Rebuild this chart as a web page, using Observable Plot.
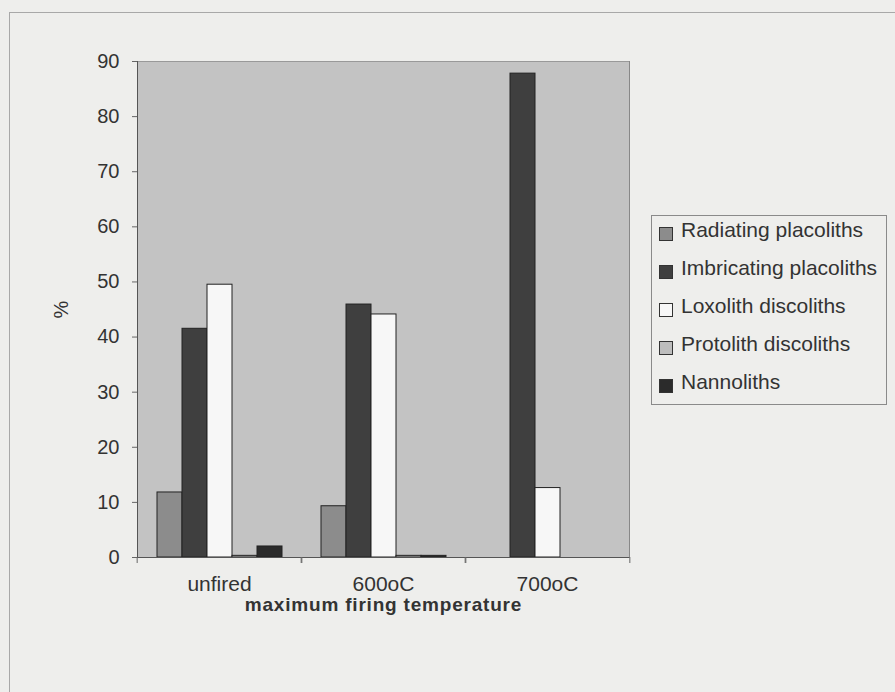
<!DOCTYPE html>
<html>
<head>
<meta charset="utf-8">
<script src="https://cdn.jsdelivr.net/npm/d3@7"></script>
<script src="https://cdn.jsdelivr.net/npm/@observablehq/plot@0.6"></script>
<style>
  html, body { margin: 0; padding: 0; }
  body { width: 895px; height: 692px; overflow: hidden; background: #eeeeec; position: relative; font-family: "Liberation Sans", Arial, sans-serif; }
  #outer { position: absolute; left: 9px; top: 12px; width: 2000px; height: 2000px; border: 1px solid #a8a8a8; }
  #chart { position: absolute; left: 0; top: 0; }
  #legend { position: absolute; left: 651px; top: 215px; width: 236px; height: 190px; border: 1px solid #8a8a8a; box-sizing: border-box; padding-top: 0; }
  .item { display: flex; align-items: center; height: 38px; padding-left: 7px; font-size: 21px; color: #333; margin-top: -5px; margin-bottom: 5px; }
  .sw { width: 14px; height: 14px; border: 1px solid #333; box-sizing: border-box; margin-right: 8px; margin-top: 8px; }
  g[aria-label="fx-axis label"] text { font-weight: bold; font-size: 19px; letter-spacing: 0.8px; }
  g[aria-label="fx-axis tick label"] text { font-size: 21px; }
</style>
</head>
<body>
<div id="outer"></div>
<div id="chart"></div>
<div id="legend"></div>
<script>
const categories = ["unfired", "600oC", "700oC"];
const series = ["Radiating placoliths", "Imbricating placoliths", "Loxolith discoliths", "Protolith discoliths", "Nannoliths"];
const radiating   = [11.8, 9.3, 0];
const imbricating = [41.5, 45.9, 87.8];
const loxolith    = [49.5, 44.1, 12.6];
const protolith   = [0.3, 0.3, 0];
const nannoliths  = [2.0, 0.3, 0];
const colors = ["#8c8c8c", "#3f3f3f", "#f7f7f7", "#bdbdbd", "#2b2b2b"];
const yTicks = [0, 10, 20, 30, 40, 50, 60, 70, 80, 90];

const values = [radiating, imbricating, loxolith, protolith, nannoliths];
const rows = [];
categories.forEach((c, i) => series.forEach((s, j) => {
  if (values[j][i] > 0) rows.push({category: c, series: s, value: values[j][i]});
}));

const W = 895, H = 692, ML = 136, MR = 265, MT = 61, MB = 135;
const step = (W - ML - MR) / categories.length;
const first = categories[0], last = categories[categories.length - 1];

const chart = Plot.plot({
  width: W, height: H,
  marginLeft: ML, marginRight: MR, marginTop: MT, marginBottom: MB,
  style: {background: "transparent", fontFamily: "'Liberation Sans', Arial, sans-serif", fontSize: "20px", color: "#333"},
  fx: {domain: categories, padding: 0},
  x: {domain: series, paddingInner: 0, paddingOuter: 0.7, axis: null},
  y: {domain: [0, 90]},
  color: {domain: series, range: colors},
  marks: [
    Plot.frame({fill: "#c3c3c3", stroke: "#c3c3c3"}),
    Plot.ruleY([90], {stroke: "#999"}),
    Plot.frame({anchor: "right", fx: [last], stroke: "#888"}),
    Plot.barY(rows, {fx: "category", x: "series", y: "value", fill: "series", stroke: "#222", strokeWidth: 1}),
    Plot.ruleY([0], {stroke: "#555"}),
    Plot.frame({anchor: "left", fx: [first], stroke: "#555"}),
    Plot.axisY({ticks: yTicks, tickSize: 5, tickPadding: 13, stroke: "#666", label: "%", labelAnchor: "center", labelArrow: "none", labelOffset: 84}),
    Plot.axisFx({anchor: "bottom", tickSize: 0, tickPadding: 19, label: "maximum firing temperature", labelAnchor: "center", labelArrow: "none", labelOffset: 53}),
    Plot.axisFx({anchor: "bottom", tickSize: 6, tickFormat: () => "", dx: -step / 2, label: null, stroke: "#666"}),
    Plot.axisFx({anchor: "bottom", tickSize: 6, tickFormat: () => "", dx: step / 2, label: null, stroke: "#666"})
  ]
});
document.getElementById("chart").appendChild(chart);

const legend = document.getElementById("legend");
series.forEach((s, j) => {
  const item = document.createElement("div");
  item.className = "item";
  const sw = document.createElement("span");
  sw.className = "sw";
  sw.style.background = colors[j];
  item.appendChild(sw);
  item.appendChild(document.createTextNode(s));
  legend.appendChild(item);
});
</script>
</body>
</html>
